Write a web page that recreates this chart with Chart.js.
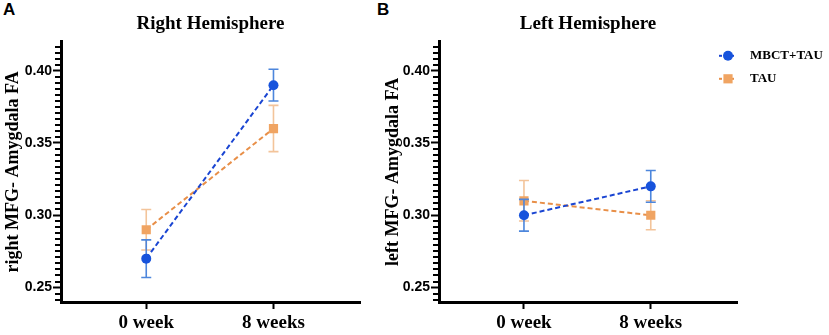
<!DOCTYPE html>
<html>
<head>
<meta charset="utf-8">
<script src="https://cdn.jsdelivr.net/npm/chart.js@4.4.1/dist/chart.umd.min.js"></script>
<style>
  body { margin: 0; background: #fff; width: 829px; height: 335px; overflow: hidden; position: relative; }
  canvas { position: absolute; top: 0; }
  #chartA { left: 0; }
  #chartB { left: 380px; }
  .tag { position: absolute; top: 1px; font: bold 17px "Liberation Sans", Arial, sans-serif; line-height: 17px; color: #000; }
</style>
</head>
<body>
<div class="tag" style="left:3px">A</div>
<div class="tag" style="left:377px">B</div>
<canvas id="chartA" width="380" height="335"></canvas>
<canvas id="chartB" width="449" height="335"></canvas>
<script>
(function () {
    "use strict";

    // Data
    var weeks = ['0 week', '8 weeks'];
    var yTicks = [0.25, 0.30, 0.35, 0.40];

    var rightMbct = [0.27, 0.39];
    var rightMbctErr = [0.013, 0.011];
    var rightTau = [0.29, 0.36];
    var rightTauErr = [0.014, 0.016];

    var leftMbct = [0.30, 0.32];
    var leftMbctErr = [0.011, 0.011];
    var leftTau = [0.31, 0.30];
    var leftTauErr = [0.014, 0.010];

    var serif = '"Liberation Serif", "Times New Roman", serif';
    var sans = '"Liberation Sans", Arial, sans-serif';

    var blue = '#1753dc';
    var blueLine = '#1a45d2';
    var blueErr = '#4d86dc';
    var orange = '#f0a462';
    var orangeLine = '#e88f48';
    var orangeErr = '#f3c49a';

    function points(arr) {
        return arr.map(function (v, i) { return {x: i, y: v}; });
    }

    // Error bars, minor ticks and legend
    var extras = {
        id: 'extras',
        beforeDatasetDraw: function (chart, args) {
            var ds = chart.data.datasets[args.index];
            var ctx = chart.ctx, xs = chart.scales.x, ys = chart.scales.y;
            ctx.save();
            ctx.strokeStyle = ds.errColor;
            ctx.lineWidth = 1.6;
            ds.data.forEach(function (p, i) {
                var px = xs.getPixelForValue(p.x);
                var top = ys.getPixelForValue(p.y + ds.err[i]);
                var bot = ys.getPixelForValue(p.y - ds.err[i]);
                ctx.beginPath();
                ctx.moveTo(px, top); ctx.lineTo(px, bot);
                ctx.moveTo(px - 5, top); ctx.lineTo(px + 5, top);
                ctx.moveTo(px - 5, bot); ctx.lineTo(px + 5, bot);
                ctx.stroke();
            });
            ctx.restore();
        },
        afterDraw: function (chart, args, opts) {
            var ctx = chart.ctx, ys = chart.scales.y;
            var left = ys.right;
            // minor ticks
            ctx.save();
            ctx.setLineDash([]);
            ctx.strokeStyle = '#000';
            ctx.lineWidth = 2;
            var step = 0.05 / 12;
            for (var k = -3; k <= 40; k++) {
                var v = 0.25 + k * step;
                if (v < ys.min || v > ys.max) continue;
                if (k % 12 === 0) continue;
                var py = Math.round(ys.getPixelForValue(v));
                ctx.beginPath();
                ctx.moveTo(left - 6, py);
                ctx.lineTo(left, py);
                ctx.stroke();
            }
            ctx.restore();

            if (!opts.legend) return;
            var area = chart.chartArea;
            var lx = area.right - 9;
            var ly = area.top + 14;
            chart.data.datasets.forEach(function (ds) {
                ctx.save();
                ctx.strokeStyle = ds.borderColor;
                ctx.lineWidth = 2;
                ctx.setLineDash([3, 3]);
                ctx.beginPath();
                ctx.moveTo(lx - 9, ly);
                ctx.lineTo(lx + 9, ly);
                ctx.stroke();
                ctx.setLineDash([]);
                ctx.fillStyle = ds.pointBackgroundColor;
                Chart.helpers.drawPoint(ctx, {pointStyle: ds.pointStyle, radius: ds.pointRadius, rotation: 0, borderWidth: 0}, lx, ly);
                ctx.fillStyle = '#000';
                ctx.font = 'bold 13px ' + serif;
                ctx.textBaseline = 'middle';
                ctx.textAlign = 'left';
                ctx.fillText(ds.label, lx + 22, ly);
                ctx.restore();
                ly += 23;
            });
        }
    };

    function makeChart(id, title, axisTitle, mbct, mbctErr, tau, tauErr, padRight, yWidth, legend) {
        var ctx = document.getElementById(id).getContext('2d');
        return new Chart(ctx, {
            type: 'line',
            data: {
                datasets: [{
                    label: 'MBCT+TAU',
                    data: points(mbct),
                    err: mbctErr,
                    errColor: blueErr,
                    borderColor: blueLine,
                    borderWidth: 2,
                    borderDash: [5, 3],
                    pointStyle: 'circle',
                    pointRadius: 5,
                    pointBackgroundColor: blue,
                    pointBorderWidth: 0
                }, {
                    label: 'TAU',
                    data: points(tau),
                    err: tauErr,
                    errColor: orangeErr,
                    borderColor: orangeLine,
                    borderWidth: 2,
                    borderDash: [5, 3],
                    pointStyle: 'rect',
                    pointRadius: 6.5,
                    pointBackgroundColor: orange,
                    pointBorderWidth: 0
                }]
            },
            options: {
                responsive: false,
                animation: false,
                devicePixelRatio: 1,
                layout: {padding: {left: 0, right: padRight, top: 0, bottom: 0}},
                plugins: {
                    legend: {display: false},
                    tooltip: {enabled: false},
                    title: {
                        display: true,
                        text: title,
                        fullSize: false,
                        color: '#000',
                        font: {family: serif, size: 19, weight: 'bold'},
                        padding: {top: 13, bottom: 6}
                    },
                    extras: {legend: legend}
                },
                scales: {
                    x: {
                        type: 'linear',
                        min: -0.67,
                        max: 1.68,
                        afterBuildTicks: function (s) {
                            s.ticks = weeks.map(function (w, i) { return {value: i}; });
                        },
                        ticks: {
                            callback: function (v) { return weeks[v]; },
                            color: '#000',
                            font: {family: serif, size: 19, weight: 'bold'},
                            padding: 3,
                            maxRotation: 0,
                            autoSkip: false
                        },
                        grid: {drawOnChartArea: false, tickLength: 7, tickWidth: 2, tickColor: '#000'},
                        border: {color: '#000', width: 3},
                        afterFit: function (s) {
                            s.height = 33;
                            s.paddingLeft = 0;
                            s.paddingRight = 0;
                        }
                    },
                    y: {
                        min: 0.24,
                        max: 0.42,
                        afterBuildTicks: function (s) {
                            s.ticks = yTicks.map(function (v) { return {value: v}; });
                        },
                        ticks: {
                            callback: function (v) { return v.toFixed(2); },
                            color: '#000',
                            font: {family: sans, size: 14, weight: 'bold'},
                            padding: 1
                        },
                        grid: {drawOnChartArea: false, tickLength: 8, tickWidth: 2, tickColor: '#000'},
                        border: {color: '#000', width: 3},
                        title: {
                            display: true,
                            text: axisTitle,
                            color: '#000',
                            font: {family: serif, size: 18, weight: 'bold'},
                            padding: {top: 3, bottom: 0}
                        },
                        afterFit: function (s) {
                            s.width = yWidth;
                            s.paddingTop = 0;
                            s.paddingBottom = 0;
                        }
                    }
                }
            },
            plugins: [extras]
        });
    }

    makeChart('chartA', 'Right Hemisphere', 'right MFG- Amygdala FA',
        rightMbct, rightMbctErr, rightTau, rightTauErr, 20, 61, false);
    makeChart('chartB', 'Left Hemisphere', 'left MFG- Amygdala FA',
        leftMbct, leftMbctErr, leftTau, leftTauErr, 92, 59, true);
})();
</script>
</body>
</html>
